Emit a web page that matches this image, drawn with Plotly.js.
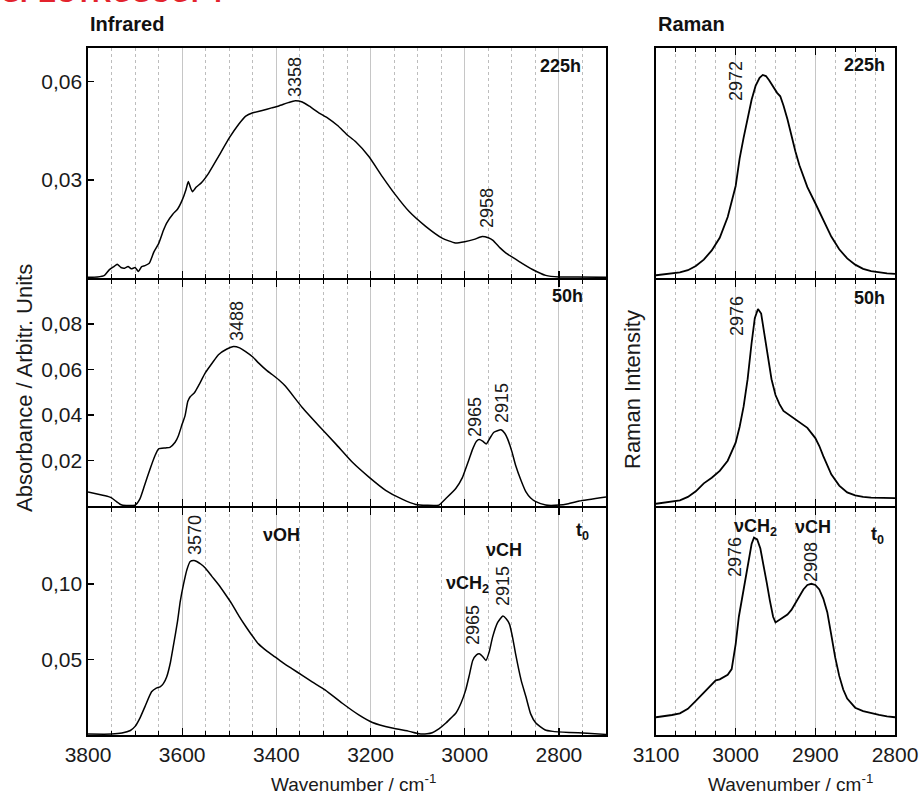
<!DOCTYPE html>
<html><head><meta charset="utf-8">
<script src="https://cdn.plot.ly/plotly-3.0.1.min.js"></script>
<style>html,body{margin:0;padding:0;background:#fff}#chart{width:919px;height:794px}</style>
</head><body><div id="chart"></div>
<script>
// ---------- DATA ----------
// Infrared, 225 h
const ir225Wn = [3800,3780,3765,3755,3745,3738,3730,3722,3715,3708,3700,3693,3686,3679,3670,3660,3650,3640,3633,3620,3610,3600,3592,3587,3582,3578,3570,3560,3544,3523,3500,3480,3465,3450,3430,3410,3395,3375,3360,3345,3330,3310,3290,3270,3250,3232,3204,3175,3147,3118,3083,3048,3020,3000,2980,2963,2950,2940,2925,2913,2885,2856,2828,2800,2760,2700];
const ir225Abs = [0.0002,0.0003,0.0008,0.0025,0.0035,0.0042,0.0032,0.0030,0.0035,0.0028,0.0032,0.0020,0.0035,0.0038,0.0045,0.0080,0.0105,0.0145,0.0168,0.0195,0.0210,0.0238,0.0270,0.0295,0.0275,0.0264,0.0278,0.0290,0.0320,0.0371,0.0428,0.0470,0.0495,0.0505,0.0512,0.0520,0.0526,0.0536,0.0542,0.0538,0.0525,0.0505,0.0488,0.0466,0.0438,0.0417,0.0372,0.0310,0.0254,0.0203,0.0158,0.0122,0.0107,0.0111,0.0118,0.0127,0.0123,0.0115,0.0092,0.0077,0.0051,0.0026,0.0008,0.0003,0.0003,0.0002];
// Infrared, 50 h
const ir50Wn = [3800,3771,3755,3750,3740,3728,3700,3690,3680,3668,3658,3650,3635,3626,3615,3608,3600,3594,3588,3583,3574,3565,3551,3535,3523,3505,3491,3478,3466,3450,3438,3420,3409,3395,3381,3345,3310,3274,3239,3204,3168,3133,3104,3080,3055,3040,3019,3005,2998,2990,2983,2975,2969,2962,2954,2946,2938,2923,2915,2909,2900,2892,2880,2870,2860,2849,2828,2800,2780,2757,2700];
const ir50Abs = [0.0062,0.0048,0.0040,0.0036,0.0020,0.0004,0.0004,0.0030,0.0090,0.0164,0.0220,0.0251,0.0255,0.0258,0.0280,0.0309,0.0360,0.0396,0.0460,0.0480,0.0498,0.0530,0.0585,0.0632,0.0665,0.0690,0.0701,0.0695,0.0680,0.0655,0.0629,0.0595,0.0578,0.0555,0.0527,0.0433,0.0353,0.0273,0.0193,0.0128,0.0069,0.0030,0.0007,0.0003,0.0004,0.0033,0.0077,0.0125,0.0164,0.0210,0.0251,0.0285,0.0292,0.0285,0.0273,0.0300,0.0324,0.0335,0.0320,0.0295,0.0240,0.0179,0.0110,0.0062,0.0035,0.0019,0.0004,0.0004,0.0010,0.0022,0.0040];
// Infrared, t0
const ir0Wn = [3800,3750,3728,3710,3700,3690,3679,3665,3655,3647,3640,3633,3625,3618,3610,3604,3597,3590,3583,3575,3569,3560,3551,3537,3523,3508,3494,3480,3466,3452,3438,3420,3402,3385,3367,3345,3324,3296,3260,3225,3196,3154,3118,3097,3080,3069,3055,3040,3030,3019,3008,2998,2990,2983,2975,2969,2962,2955,2948,2941,2930,2919,2912,2905,2898,2892,2880,2870,2860,2849,2830,2813,2778,2740,2700];
const ir0Abs = [0.0006,0.0006,0.0013,0.0030,0.0057,0.0110,0.0188,0.0286,0.0310,0.0319,0.0340,0.0384,0.0480,0.0603,0.0750,0.0886,0.1000,0.1094,0.1148,0.1155,0.1148,0.1130,0.1105,0.1050,0.0996,0.0930,0.0865,0.0790,0.0723,0.0660,0.0603,0.0555,0.0515,0.0475,0.0439,0.0395,0.0352,0.0297,0.0210,0.0133,0.0083,0.0046,0.0024,0.0008,0.0008,0.0015,0.0040,0.0079,0.0110,0.0144,0.0210,0.0297,0.0400,0.0493,0.0530,0.0537,0.0520,0.0493,0.0550,0.0646,0.0745,0.0788,0.0770,0.0734,0.0640,0.0537,0.0360,0.0253,0.0140,0.0079,0.0035,0.0024,0.0017,0.0012,0.0004];
// Raman, 225 h (relative intensity)
const ra225Wn = [3100,3090,3080,3070,3060,3050,3040,3030,3020,3010,3000,2995,2990,2985,2980,2975,2970,2966,2962,2958,2953,2948,2944,2940,2935,2930,2925,2920,2915,2910,2900,2890,2880,2870,2860,2850,2840,2830,2820,2810,2800];
const ra225Int = [0.012,0.015,0.018,0.024,0.034,0.052,0.080,0.120,0.175,0.265,0.400,0.520,0.610,0.700,0.775,0.835,0.870,0.883,0.878,0.860,0.830,0.805,0.790,0.750,0.690,0.615,0.550,0.490,0.440,0.395,0.325,0.250,0.180,0.125,0.085,0.058,0.040,0.030,0.024,0.020,0.018];
// Raman, 50 h
const ra50Wn = [3100,3090,3080,3070,3060,3050,3040,3030,3020,3010,3000,2995,2990,2985,2980,2976,2972,2968,2964,2960,2955,2950,2945,2940,2930,2920,2910,2900,2895,2890,2885,2880,2870,2860,2850,2840,2830,2820,2810,2800];
const ra50Int = [0.010,0.015,0.018,0.025,0.040,0.065,0.100,0.125,0.155,0.200,0.280,0.350,0.440,0.560,0.720,0.830,0.870,0.850,0.760,0.670,0.560,0.490,0.450,0.420,0.395,0.370,0.345,0.300,0.265,0.220,0.180,0.140,0.090,0.060,0.047,0.040,0.037,0.036,0.034,0.035];
// Raman, t0
const ra0Wn = [3100,3090,3080,3070,3060,3050,3040,3030,3025,3020,3010,3005,3000,2996,2992,2988,2984,2980,2977,2973,2969,2965,2961,2957,2953,2950,2946,2940,2935,2930,2925,2920,2915,2910,2905,2900,2895,2890,2885,2880,2875,2870,2865,2860,2850,2840,2830,2820,2810,2800];
const ra0Int = [0.078,0.082,0.088,0.095,0.115,0.150,0.186,0.225,0.240,0.245,0.265,0.290,0.400,0.520,0.600,0.680,0.770,0.840,0.868,0.860,0.820,0.750,0.670,0.590,0.520,0.495,0.505,0.520,0.530,0.550,0.580,0.615,0.640,0.660,0.665,0.660,0.640,0.600,0.540,0.440,0.340,0.260,0.200,0.160,0.120,0.105,0.095,0.088,0.082,0.078];

// tick labels
const irXTicks = [3800,3600,3400,3200,3000,2800];
const ramanXTicks = [3100,3000,2900,2800];
const ir225YTicks = [0.03,0.06];
const ir50YTicks = [0.02,0.04,0.06,0.08];
const ir0YTicks = [0.05,0.10];

// ---------- LAYOUT ----------
const W = 919, H = 794;
const PX = v => v / W, PY = v => 1 - v / H;
const FONT = 'Liberation Sans, Arial, Helvetica, sans-serif';
const LW = 1.6;
const IRX = [88, 606], RAX = [656, 895];
const ROWS = [[48, 278], [278 + LW, 506], [506 + LW, 735]];
const dx = r => [PX(r[0]), PX(r[1])];
const dy = r => [PY(r[1]), PY(r[0])];

const lineStyle = {color: '#000', width: 1.5, shape: 'spline', smoothing: 0.5};
const ramanLine = {color: '#000', width: 1.8};

const traces = [
  {x: ir225Wn, y: ir225Abs, xaxis: 'x', yaxis: 'y', mode: 'lines', line: lineStyle},
  {x: ir50Wn, y: ir50Abs, xaxis: 'x2', yaxis: 'y2', mode: 'lines', line: lineStyle},
  {x: ir0Wn, y: ir0Abs, xaxis: 'x3', yaxis: 'y3', mode: 'lines', line: lineStyle},
  {x: ra225Wn, y: ra225Int, xaxis: 'x4', yaxis: 'y4', mode: 'lines', line: ramanLine},
  {x: ra50Wn, y: ra50Int, xaxis: 'x5', yaxis: 'y5', mode: 'lines', line: ramanLine},
  {x: ra0Wn, y: ra0Int, xaxis: 'x6', yaxis: 'y6', mode: 'lines', line: ramanLine}
];

const tickFont = {family: FONT, size: 21, color: '#1a1a1a'};
function xAxis(isIR, row, anchor, labels) {
  return {
    domain: dx(isIR ? IRX : RAX), anchor: anchor,
    range: isIR ? [3800, 2700] : [3100, 2800], autorange: false,
    tickmode: 'array', tickvals: isIR ? irXTicks : ramanXTicks,
    ticks: 'inside', ticklen: 7, tickwidth: 1.3, tickcolor: '#000',
    showgrid: true, gridcolor: '#c6c6c6', gridwidth: 1,
    minor: {dtick: isIR ? 50 : 25, tick0: 0, ticks: 'inside', ticklen: 4, tickwidth: 1, tickcolor: '#000',
            showgrid: true, gridcolor: '#bdbdbd', griddash: 'dot', gridwidth: 1},
    showline: true, linecolor: '#000', linewidth: LW, mirror: 'ticks',
    zeroline: false, showticklabels: labels, tickfont: tickFont, ticklabelstandoff: 0
  };
}
function yAxis(isIR, row, anchor, range, tickvals) {
  const a = {
    domain: dy(ROWS[row]), anchor: anchor, range: range, autorange: false,
    showgrid: false, zeroline: false, showline: true, linecolor: '#000', linewidth: LW, mirror: true
  };
  if (isIR) Object.assign(a, {tickmode: 'array', tickvals: tickvals, tickformat: '.2f', ticks: 'inside',
    ticklen: 6, tickwidth: 1.3, tickcolor: '#000', tickfont: tickFont});
  else Object.assign(a, {showticklabels: false, ticks: ''});
  return a;
}

const ann = [];
function txt(text, x, y, o) {
  ann.push(Object.assign({text: text, xref: 'paper', yref: 'paper', x: PX(x), y: PY(y), showarrow: false,
    xanchor: 'center', yanchor: 'middle', font: {family: FONT, size: 19, color: '#1a1a1a'}}, o || {}));
}
const bold = (s) => ({family: FONT, size: s, color: '#111', weight: 'bold'});
const peakFont = {family: FONT, size: 18, color: '#1a1a1a'};
const yTitleFont = {family: FONT, size: 22, color: '#1a1a1a'};

txt('<b>SPECTROSCOPY</b>', 0, 10, {xanchor: 'left', yanchor: 'bottom', font: {family: FONT, size: 27, color: '#e3232d'}});
txt('<b>Infrared</b>', 88, 24, {xanchor: 'left', font: bold(20)});
txt('<b>Raman</b>', 656, 24, {xanchor: 'left', font: bold(20)});
txt('Absorbance / Arbitr. Units', 24, 388, {textangle: -90, font: yTitleFont});
txt('Raman Intensity', 632, 390, {textangle: -90, font: yTitleFont});
txt('Wavenumber / cm<sup>-1</sup>', 353, 783);
txt('Wavenumber / cm<sup>-1</sup>', 790, 783);
// panel tags
txt('<b>225h</b>', 583, 66, {xanchor: 'right', font: bold(18)});
txt('<b>50h</b>', 585, 296, {xanchor: 'right', font: bold(18)});
txt('<b>t<sub>0</sub></b>', 591, 531, {xanchor: 'right', font: bold(18)});
txt('<b>225h</b>', 887, 65, {xanchor: 'right', font: bold(18)});
txt('<b>50h</b>', 887, 298, {xanchor: 'right', font: bold(18)});
txt('<b>t<sub>0</sub></b>', 886, 535, {xanchor: 'right', font: bold(18)});
// band names
txt('<b>νOH</b>', 281, 535, {font: bold(18)});
txt('<b>νCH<sub>2</sub></b>', 467, 584, {font: bold(18)});
txt('<b>νCH</b>', 504, 550, {font: bold(18)});
txt('<b>νCH<sub>2</sub></b>', 755, 527, {font: bold(18)});
txt('<b>νCH</b>', 813, 527, {font: bold(18)});
// peak positions
const pk = (t, x, y) => txt(t, x, y, {textangle: -90, font: peakFont});
pk('3358', 295, 77); pk('2958', 487, 208);
pk('3488', 237, 321); pk('2965', 475, 417); pk('2915', 502, 403);
pk('3570', 195, 535); pk('2965', 473, 625); pk('2915', 503, 586);
pk('2972', 736, 81);
pk('2976', 737, 316);
pk('2976', 735, 557); pk('2908', 811, 562);

const topIR = xAxis(true, 0, 'y', false);
topIR.mirror = true; // top edge ticks come from the overlay axis below
const layout = {
  width: W, height: H, margin: {l: 0, r: 0, t: 0, b: 0},
  paper_bgcolor: '#fff', plot_bgcolor: '#fff', showlegend: false,
  separators: ',.', font: {family: FONT, color: '#1a1a1a'},
  xaxis: topIR,
  xaxis2: xAxis(true, 1, 'y2', false),
  xaxis3: xAxis(true, 2, 'y3', true),
  xaxis4: xAxis(false, 0, 'y4', false),
  xaxis5: xAxis(false, 1, 'y5', false),
  xaxis6: xAxis(false, 2, 'y6', true),
  xaxis7: {
    overlaying: 'x', anchor: 'y', side: 'top', domain: dx(IRX),
    range: [3800, 2700], autorange: false, tickmode: 'array', tickvals: irXTicks,
    ticks: 'inside', ticklen: 7, tickwidth: 1.3, tickcolor: '#000',
    minor: {dtick: 40, tick0: 0, ticks: 'inside', ticklen: 4, tickwidth: 1, tickcolor: '#000', showgrid: false},
    showgrid: false, showline: false, zeroline: false, showticklabels: false
  },
  yaxis: yAxis(true, 0, 'x', [0, 0.0703], ir225YTicks),
  yaxis2: yAxis(true, 1, 'x2', [0, 0.0995], ir50YTicks),
  yaxis3: yAxis(true, 2, 'x3', [0, 0.1505], ir0YTicks),
  yaxis4: yAxis(false, 0, 'x4', [0, 1]),
  yaxis5: yAxis(false, 1, 'x5', [0, 1]),
  yaxis6: yAxis(false, 2, 'x6', [0, 1]),
  annotations: ann
};
Plotly.newPlot('chart', traces, layout, {staticPlot: true, displayModeBar: false});
</script>
</body></html>
